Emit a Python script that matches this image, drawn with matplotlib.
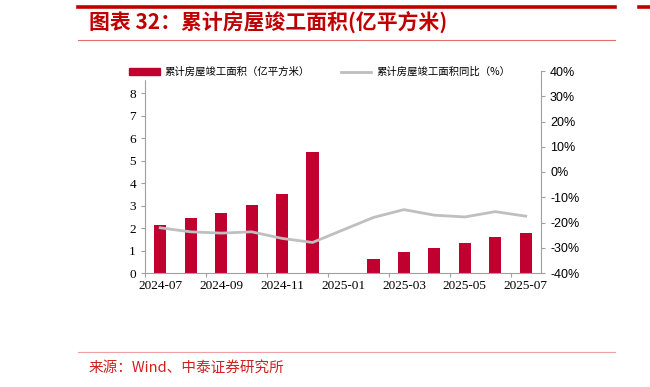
import numpy as np
import matplotlib
matplotlib.use("Agg")
import matplotlib.pyplot as plt
from matplotlib.lines import Line2D
from matplotlib.patches import Patch

# 数据
months = ['2024-07', '2024-08', '2024-09', '2024-10', '2024-11', '2024-12', '2025-01',
          '2025-02', '2025-03', '2025-04', '2025-05', '2025-06', '2025-07']
area = [2.15, 2.43, 2.67, 3.05, 3.52, 5.37, np.nan, 0.63, 0.94, 1.13, 1.32, 1.61, 1.80]
yoy = [-22.1, -23.7, -24.2, -23.7, -26.3, -27.9, np.nan, -18.0, -14.9, -17.1, -17.8, -15.7, -17.5]

cjk = ['Noto Sans CJK SC', 'DejaVu Sans']
red = '#C0002F'
gray = '#BFBFBF'

fig = plt.figure(figsize=(6.5, 3.87), dpi=100)

# 页眉线条
fig.add_artist(Line2D([78/650, 615/650], [1 - 7/387] * 2, color='#C00000', lw=2.6))
fig.add_artist(Line2D([639/650, 1.0], [1 - 7/387] * 2, color='#C00000', lw=2.6))
fig.add_artist(Line2D([78/650, 615/650], [1 - 40/387] * 2, color='#E07070', lw=0.8))
fig.add_artist(Line2D([78/650, 615/650], [1 - 352/387] * 2, color='#F0A0A0', lw=0.8))
fig.text(89/650, 1 - 23/387, '图表 32：累计房屋竣工面积(亿平方米)', family=cjk,
         fontsize=15, fontweight='bold', style='italic', color='#C00000', va='center')
fig.text(89/650, 1 - 368/387, '来源：Wind、中泰证券研究所', family=cjk,
         fontsize=10.5, color='#D02020', va='center')

ax = fig.add_axes([145/650, 1 - 273/387, 396/650, 202/387])
x = np.arange(len(months))
ax.bar(x, area, width=0.4, color=red, zorder=2)
ax.set_xlim(-0.5, len(months) - 0.5)
ax.set_ylim(0, 9)
ax.set_yticks(range(0, 9))
for s in ['top', 'right']:
    ax.spines[s].set_visible(False)
for s in ['left', 'bottom']:
    ax.spines[s].set_color('#A0A0A0')
ax.tick_params(axis='y', direction='out', length=3, color='#A0A0A0', labelsize=9.5)
for lab in ax.get_yticklabels():
    lab.set_family('Liberation Serif')

# x 轴：刻度线在分隔处，标签在柱子中心
ax.set_xticks(np.arange(-0.5, len(months), 2))
ax.set_xticklabels([])
ax.tick_params(axis='x', which='major', direction='out', length=3, color='#A0A0A0')
ax.set_xticks(x[::2], minor=True)
ax.set_xticklabels(months[::2], minor=True, family='Liberation Serif', fontsize=9.5)
ax.tick_params(axis='x', which='minor', length=0, pad=5)

ax2 = ax.twinx()
mask = ~np.isnan(yoy)
ax2.plot(x[mask], np.array(yoy)[mask], color=gray, lw=2.0, zorder=3)
ax2.set_ylim(-40, 40)
ax2.set_yticks(range(-40, 41, 10))
ax2.set_yticklabels([f'{v}%' for v in range(-40, 41, 10)], family='Liberation Sans', fontsize=9)
for s in ['top', 'left', 'bottom']:
    ax2.spines[s].set_visible(False)
ax2.spines['right'].set_color('#A0A0A0')
ax2.tick_params(axis='y', direction='out', length=3, color='#A0A0A0')

handles = [Patch(color=red), Line2D([], [], color=gray, lw=2.0)]
labels = ['累计房屋竣工面积（亿平方米）', '累计房屋竣工面积同比（%）']
leg = fig.legend(handles, labels, loc='center left', bbox_to_anchor=(122/650, 1 - 72/387),
                 ncol=2, frameon=True, fancybox=False, edgecolor='white', framealpha=1,
                 prop={'family': cjk, 'size': 7.5}, handlelength=2.9, handleheight=0.6,
                 columnspacing=3.0, handletextpad=0.5, borderpad=0.2)

fig.savefig('out.png', dpi=100)
